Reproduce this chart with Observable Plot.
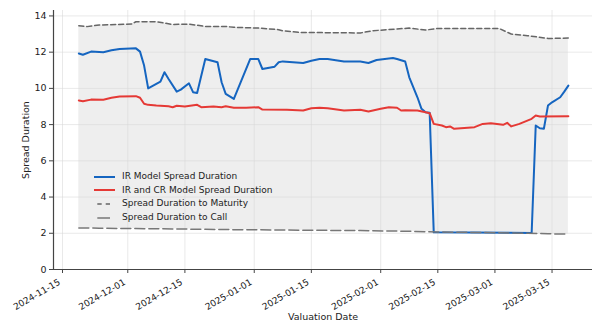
<!DOCTYPE html>
<html><head><meta charset="utf-8">
<script src="https://cdn.jsdelivr.net/npm/d3@7"></script>
<script src="https://cdn.jsdelivr.net/npm/@observablehq/plot@0.6"></script>
<style>
body{margin:0;background:#fff;font-family:"DejaVu Sans",sans-serif;}
#wrap{position:relative;width:602px;height:334px;}
#chart svg, #chart svg text{font-family:"DejaVu Sans",sans-serif;}
#chart svg g[aria-label="x-axis tick label"]{font-size:9px;}
#chart svg g[aria-label="y-axis tick label"]{font-size:9.5px;}
#chart svg g[aria-label="x-axis label"], #chart svg g[aria-label="y-axis label"]{font-size:9.5px;}
#legend{position:absolute;left:94px;top:170px;font-size:9px;color:#222;line-height:13.6px;}
.row{display:flex;align-items:center;height:13.6px;white-space:nowrap;}
.row svg{margin-right:7px;}
</style></head><body>
<div id="wrap"><div id="chart"></div><div id="legend"></div></div>
<script>
// ---- data ----
const seriesNames = ["IR Model Spread Duration","IR and CR Model Spread Duration","Spread Duration to Maturity","Spread Duration to Call"];

const blueDates = ["2024-11-19","2024-11-20","2024-11-22","2024-11-25","2024-11-27","2024-11-29","2024-12-03","2024-12-04","2024-12-05","2024-12-06","2024-12-09","2024-12-10","2024-12-11","2024-12-13","2024-12-14","2024-12-16","2024-12-17","2024-12-18","2024-12-20","2024-12-23","2024-12-24","2024-12-25","2024-12-27","2024-12-31","2025-01-02","2025-01-03","2025-01-06","2025-01-07","2025-01-08","2025-01-13","2025-01-15","2025-01-17","2025-01-19","2025-01-23","2025-01-27","2025-01-29","2025-01-31","2025-02-04","2025-02-05","2025-02-07","2025-02-08","2025-02-10","2025-02-11","2025-02-12","2025-02-13","2025-02-14","2025-03-10","2025-03-11","2025-03-12","2025-03-13","2025-03-14","2025-03-15","2025-03-17","2025-03-18","2025-03-19"];
const blueValues = [11.93,11.86,12.03,11.99,12.10,12.18,12.21,12.03,11.26,10.00,10.37,10.89,10.52,9.82,9.93,10.28,9.79,9.75,11.62,11.44,10.34,9.70,9.42,11.62,11.62,11.07,11.20,11.44,11.49,11.40,11.53,11.62,11.62,11.48,11.48,11.40,11.57,11.68,11.62,11.48,10.61,9.51,8.87,8.68,8.65,2.05,2.02,7.95,7.80,7.77,9.05,9.23,9.51,9.82,10.15];

const redDates = ["2024-11-19","2024-11-20","2024-11-22","2024-11-25","2024-11-27","2024-11-29","2024-12-03","2024-12-04","2024-12-05","2024-12-06","2024-12-08","2024-12-11","2024-12-12","2024-12-13","2024-12-15","2024-12-18","2024-12-19","2024-12-22","2024-12-24","2024-12-25","2024-12-27","2024-12-30","2025-01-02","2025-01-03","2025-01-09","2025-01-13","2025-01-15","2025-01-17","2025-01-19","2025-01-23","2025-01-27","2025-01-29","2025-02-01","2025-02-03","2025-02-05","2025-02-06","2025-02-07","2025-02-10","2025-02-12","2025-02-13","2025-02-14","2025-02-16","2025-02-17","2025-02-18","2025-02-19","2025-02-24","2025-02-26","2025-02-28","2025-03-03","2025-03-04","2025-03-05","2025-03-07","2025-03-10","2025-03-11","2025-03-12","2025-03-19"];
const redValues = [9.33,9.29,9.38,9.37,9.48,9.55,9.57,9.48,9.15,9.09,9.05,9.01,8.96,9.04,9.00,9.09,8.96,9.00,8.96,9.01,8.93,8.93,8.96,8.83,8.82,8.78,8.90,8.93,8.90,8.78,8.82,8.72,8.87,8.96,8.93,8.78,8.79,8.78,8.68,8.63,8.04,7.95,7.86,7.90,7.77,7.86,8.04,8.08,7.99,8.10,7.90,8.04,8.32,8.50,8.45,8.46];

const envDates = ["2024-11-19","2024-11-21","2024-11-24","2024-12-02","2024-12-03","2024-12-08","2024-12-12","2024-12-16","2024-12-20","2024-12-25","2024-12-27","2025-01-02","2025-01-07","2025-01-08","2025-01-12","2025-01-27","2025-01-30","2025-02-08","2025-02-12","2025-02-15","2025-03-02","2025-03-05","2025-03-09","2025-03-14","2025-03-15","2025-03-19"];
const maturityValues = [13.46,13.41,13.50,13.55,13.68,13.68,13.53,13.55,13.42,13.42,13.37,13.33,13.24,13.18,13.09,13.06,13.18,13.33,13.22,13.31,13.31,13.00,12.91,12.76,12.76,12.78];
const callValues = [2.29,2.29,2.28,2.26,2.26,2.25,2.24,2.23,2.22,2.21,2.20,2.19,2.18,2.18,2.17,2.15,2.14,2.11,2.09,2.07,2.03,2.02,2.00,1.98,1.97,1.95];

const xTickLabels = ["2024-11-15","2024-12-01","2024-12-15","2025-01-01","2025-01-15","2025-02-01","2025-02-15","2025-03-01","2025-03-15"];
const yTickValues = [0,2,4,6,8,10,12,14];

// ---- build ----
const parse = d3.utcParse("%Y-%m-%d");
const blue = blueDates.map((d,i)=>({date:parse(d), value:blueValues[i]}));
const red = redDates.map((d,i)=>({date:parse(d), value:redValues[i]}));
const env = envDates.map((d,i)=>({date:parse(d), maturity:maturityValues[i], call:callValues[i]}));
const xTicks = xTickLabels.map(parse);
const xDomain = [new Date(Date.UTC(2024,10,12,19)), new Date(Date.UTC(2025,2,24,22))];

const colors = {blue:"#1565c0", red:"#e53935", mat:"#666666", call:"#777777"};

const chart = Plot.plot({
  width:602, height:334,
  marginLeft:53, marginRight:10, marginTop:10, marginBottom:65,
  style:{fontFamily:"DejaVu Sans, sans-serif", fontSize:"9.5px", color:"#222", background:"#fff"},
  x:{type:"utc", domain:xDomain},
  y:{domain:[0,14.3]},
  marks:[
    Plot.areaY(env, {x:"date", y1:"call", y2:"maturity", fill:"#eeeeee", curve:"linear"}),
    Plot.gridX(xTicks, {stroke:"#d8d8d8", strokeOpacity:0.8, strokeWidth:0.7}),
    Plot.gridY(yTickValues, {stroke:"#d8d8d8", strokeOpacity:0.8, strokeWidth:0.7}),
    Plot.line(blue, {x:"date", y:"value", stroke:colors.blue, strokeWidth:2}),
    Plot.line(red, {x:"date", y:"value", stroke:colors.red, strokeWidth:2}),
    Plot.line(env, {x:"date", y:"maturity", stroke:colors.mat, strokeWidth:1.5, strokeDasharray:"5,3"}),
    Plot.line(env, {x:"date", y:"call", stroke:colors.call, strokeWidth:1.5, strokeDasharray:"10,4"}),
    Plot.ruleY([0], {stroke:"#444", strokeWidth:1.2}),
    Plot.ruleX([xDomain[0]], {stroke:"#444", strokeWidth:1.2}),
    Plot.axisX({ticks:xTicks, tickFormat:d3.utcFormat("%Y-%m-%d"), tickRotate:-30, tickSize:4, tickPadding:6, stroke:"#444",
      label:null}),
    Plot.axisX({ticks:[], label:"Valuation Date", labelAnchor:"center", labelArrow:"none", labelOffset:50}),
    Plot.axisY({ticks:yTickValues, tickSize:4, tickPadding:3, stroke:"#444",
      label:"Spread Duration", labelAnchor:"center", labelArrow:"none", labelOffset:31})
  ]
});
document.getElementById("chart").appendChild(chart);
// nudge rotated tick labels so their right edge sits at the tick (matplotlib ha="right")
chart.querySelectorAll('g[aria-label="x-axis tick label"]').forEach(g=>{
  g.setAttribute("transform", (g.getAttribute("transform")||"") + " translate(-3,2)");
});

// ---- legend ----
const legendStyles = [
  {stroke:colors.blue, dash:null, w:2, x1:0, x2:21},
  {stroke:colors.red, dash:null, w:2, x1:0, x2:21},
  {stroke:colors.mat, dash:"4.4,4", w:1.5, x1:3.3, x2:16},
  {stroke:colors.call, dash:null, w:1.5, x1:3.3, x2:16}
];
const lg = document.getElementById("legend");
seriesNames.forEach((name,i)=>{
  const s = legendStyles[i];
  const row = document.createElement("div"); row.className="row";
  row.innerHTML = `<svg width="21" height="6"><line x1="${s.x1}" y1="3" x2="${s.x2}" y2="3" stroke="${s.stroke}" stroke-width="${s.w}" ${s.dash?`stroke-dasharray="${s.dash}"`:""}/></svg><span>${name}</span>`;
  lg.appendChild(row);
});
</script>
</body></html>
